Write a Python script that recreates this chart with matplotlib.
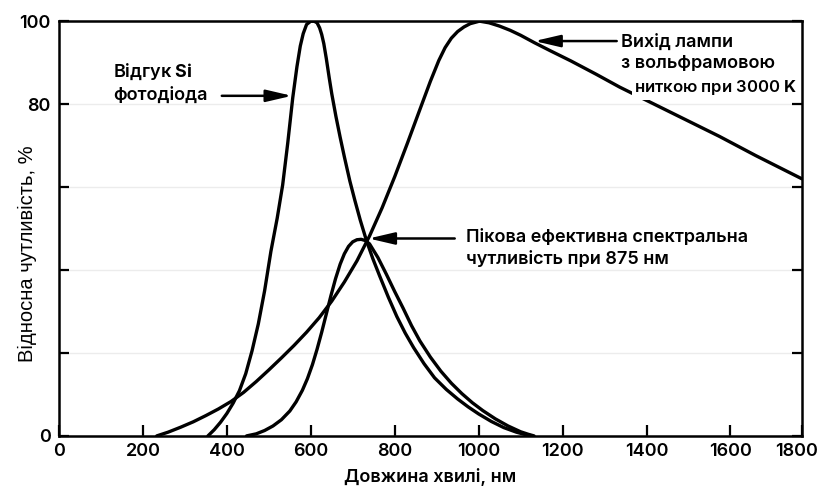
import matplotlib
matplotlib.use("Agg")
import matplotlib.pyplot as plt
import matplotlib.transforms as mtransforms

plt.rcParams['font.family'] = ['Inter', 'DejaVu Sans']
plt.rcParams['mathtext.fontset'] = 'custom'
plt.rcParams['mathtext.rm'] = 'Inter'
plt.rcParams['mathtext.bf'] = 'Inter:bold'

# відгук Si фотодіода
si_nm = [355, 370, 385, 400, 415, 430, 445, 460, 475, 490, 505, 520, 533, 545,
         557, 567, 575, 582, 590, 600, 608, 615, 621, 626, 631, 637, 644, 650,
         660, 670, 680, 693, 705, 718, 733, 748, 764, 785, 805, 825, 845, 870,
         895, 923, 950, 975, 1000, 1030, 1060, 1090, 1110, 1128]
si_val = [0, 1.5, 3.3, 5.4, 7.9, 10.9, 15, 20.5, 27, 35, 44.5, 52.5, 60.5, 70.5,
          81.5, 89, 94, 97, 99.2, 100, 100, 99.6, 98.4, 96.8, 94.6, 91, 86.3, 82.5,
          77, 72, 67.3, 61.5, 56.8, 52, 47, 42.7, 38.6, 33.4, 28.8, 24.8, 21.3, 17.4,
          14, 11.2, 8.9, 7, 5.3, 3.5, 2, 0.9, 0.35, 0]

# вихід лампи 3000 K
lamp_nm = [233, 260, 290, 320, 350, 380, 410, 440, 470, 500, 530, 560, 590, 620,
           650, 680, 710, 740, 770, 800, 830, 860, 885, 905, 920, 935, 950, 965,
           980, 1002, 1025, 1050, 1075, 1100, 1133, 1170, 1220, 1280, 1336, 1414,
           1500, 1574, 1660, 1770]
lamp_val = [0, 0.9, 2.1, 3.4, 4.9, 6.5, 8.3, 10.5, 13.1, 15.9, 18.8, 21.8, 25, 28.5,
            32.5, 37.1, 42.2, 48.2, 55, 62.5, 70.5, 78.7, 85.5, 90.5, 93.6, 95.9, 97.5, 98.6,
            99.4, 100, 99.6, 98.8, 97.8, 96.6, 94.8, 92.9, 90.4, 87.2, 84.1, 80.2,
            75.9, 72.2, 67.6, 62]

# ефективна чутливість
eff_nm = [447, 470, 490, 510, 530, 550, 565, 580, 592, 604, 615, 626, 637, 648,
          659, 670, 680, 690, 700, 710, 720, 730, 740, 760, 780, 800, 820, 840,
          860, 885, 910, 935, 960, 985, 1010, 1040, 1070, 1100, 1118, 1132]
eff_val = [0, 0.5, 1.3, 2.4, 3.9, 6, 8.2, 11, 13.8, 17.2, 20.9, 25, 29.4, 33.8,
           37.9, 41.4, 43.9, 45.7, 46.8, 47.3, 47.4, 47.1, 46.3, 43, 39, 34.8, 30.8, 26.6,
           22.9, 19, 15.6, 12.7, 10.2, 8, 6.1, 4.1, 2.4, 1, 0.4, 0]

x_ticks = [0, 200, 400, 600, 800, 1000, 1200, 1400, 1600, 1770]
x_labels = ['0', '200', '400', '600', '800', '1000', '1200', '1400', '1600', '1800']
y_ticks = [0, 20, 40, 60, 80, 100]
y_labels = ['0', '', '', '', '80', '100']

fig = plt.figure(figsize=(8.19, 4.92), dpi=100)
ax = fig.add_axes([0.072, 0.114, 0.907, 0.843])

lw = 2.4
for xs, ys in [(si_nm, si_val), (lamp_nm, lamp_val), (eff_nm, eff_val)]:
    ax.plot(xs, ys, color='black', lw=lw, solid_capstyle='round',
            solid_joinstyle='round', zorder=3)

ax.set_xlim(0, 1770)
ax.set_ylim(0, 100)
ax.set_xticks(x_ticks)
ax.set_xticklabels(x_labels)
ax.set_yticks(y_ticks)
ax.set_yticklabels(y_labels)
ax.tick_params(axis='x', direction='in', length=8, width=1.6, labelsize=13, pad=5, top=False)
ax.tick_params(axis='y', direction='in', length=7, width=1.6, labelsize=13, pad=6, right=True)
for lab in ax.get_xticklabels() + ax.get_yticklabels():
    lab.set_fontweight('semibold')
last = ax.get_xticklabels()[-1]
last.set_transform(last.get_transform() + mtransforms.ScaledTranslation(-5 / 100, 0, fig.dpi_scale_trans))
for sp in ax.spines.values():
    sp.set_linewidth(1.8)

ax.grid(axis='y', color='#ececec', lw=1, zorder=0)

ax.set_xlabel('Довжина хвилі, нм', fontsize=13, fontweight='semibold', labelpad=6)
ax.set_ylabel('Відносна чутливість, %', fontsize=14.5, family='Liberation Sans')
ax.yaxis.set_label_coords(-0.03, 0.44)

arrow = dict(arrowstyle='-|>,head_length=1.2,head_width=0.28', lw=1.8, color='black',
             mutation_scale=13, shrinkA=0, shrinkB=0)

# Si
ax.text(129, 85.2, 'Відгук $\\mathbf{Si}$\nфотодіода', fontsize=13, fontweight='semibold',
        ha='left', va='center', linespacing=1.35)
ax.annotate('', xy=(555, 82), xytext=(388, 82), arrowprops=arrow)

# лампа
ax.text(1340, 92.4, 'Вихід лампи\nз вольфрамовою', fontsize=13, fontweight='semibold',
        ha='left', va='center', linespacing=1.35)
ax.text(1371, 83.9, 'ниткою при 3000 $\\mathbf{K}$', fontsize=12, fontweight='semibold',
        ha='left', va='center', zorder=4,
        bbox=dict(boxstyle='square,pad=0.15', fc='white', ec='none'))
ax.annotate('', xy=(1133, 95.2), xytext=(1329, 95.2), arrowprops=arrow)

# пік
ax.text(971, 45.2, 'Пікова ефективна спектральна\nчутливість при 875 нм', fontsize=13,
        fontweight='semibold', ha='left', va='center', linespacing=1.35)
ax.annotate('', xy=(738, 47.6), xytext=(943, 47.6), arrowprops=arrow)

fig.savefig('out.png', dpi=100)
